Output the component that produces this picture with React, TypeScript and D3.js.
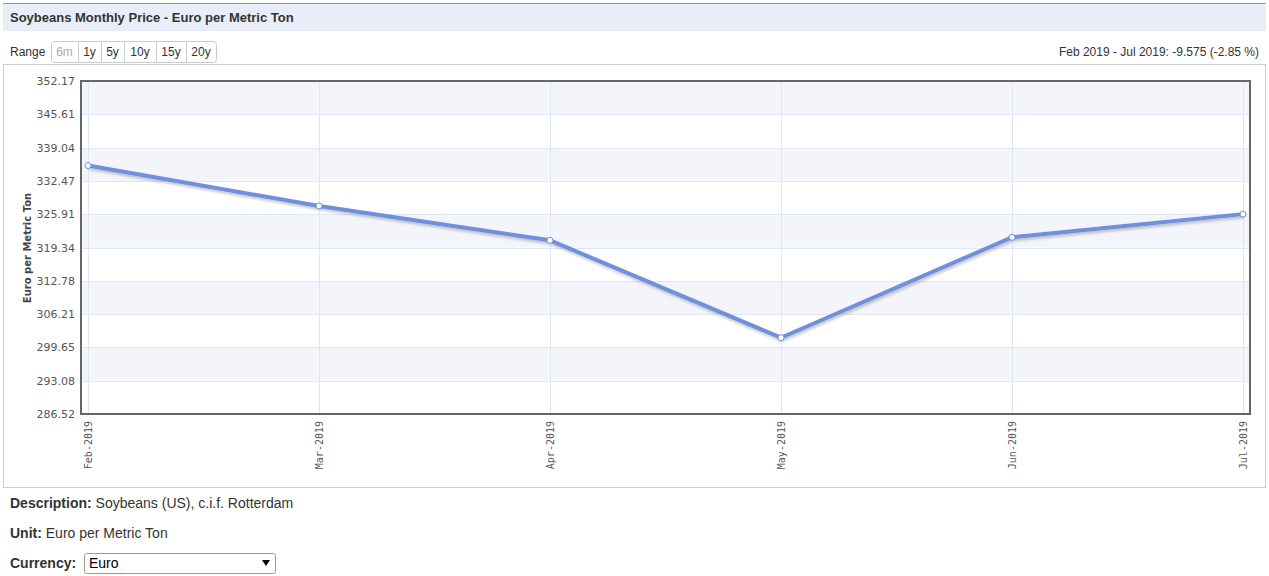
import React from "react";
import * as d3 from "d3";

const months = ["Feb-2019", "Mar-2019", "Apr-2019", "May-2019", "Jun-2019", "Jul-2019"];
const prices = [335.5, 327.53, 320.76, 301.56, 321.36, 325.925];
const yTicks = [286.52, 293.08, 299.65, 306.21, 312.78, 319.34, 325.91, 332.47, 339.04, 345.61, 352.17];
const rangeButtons = ["6m", "1y", "5y", "10y", "15y", "20y"];
const buttonWidths = [27, 23, 23, 32, 30, 30];

const W = 1269;
const H = 576;
const plot = { left: 81, right: 1250, top: 81, bottom: 414 };

export default function App() {
  const x = d3.scalePoint<string>().domain(months).range([plot.left + 7, plot.right - 7]);
  const y = d3.scaleLinear().domain([yTicks[0], yTicks[yTicks.length - 1]]).range([plot.bottom, plot.top]);
  const line = d3.line<number>().x((_, i) => x(months[i]) as number).y((d) => y(d));
  const bands = yTicks.slice(0, -1).map((t, i) => ({ lo: t, hi: yTicks[i + 1], idx: i }));
  const font = "'Liberation Sans', Arial, sans-serif";
  let bx = 51;
  return (
    <svg width={W} height={H} style={{ position: "absolute", left: 0, top: 0 }} fontFamily={font}>
      <defs>
        <filter id="sh" x="-5%" y="-20%" width="110%" height="140%">
          <feGaussianBlur in="SourceAlpha" stdDeviation="1.5" />
          <feOffset dx="1" dy="2" />
          <feComponentTransfer><feFuncA type="linear" slope="0.25" /></feComponentTransfer>
          <feMerge><feMergeNode /><feMergeNode in="SourceGraphic" /></feMerge>
        </filter>
      </defs>
      <rect x={0} y={0} width={W} height={H} fill="#fff" />
      {/* title bar */}
      <rect x={3} y={3} width={1263} height={28} fill="#e9edf8" />
      <line x1={3} x2={1266} y1={3.5} y2={3.5} stroke="#7a95cf" strokeWidth={1} />
      <text x={10} y={22} fontSize={13} fontWeight="bold" fill="#333">Soybeans Monthly Price - Euro per Metric Ton</text>
      {/* range */}
      <text x={10} y={56} fontSize={12} fill="#333">Range</text>
      <rect x={51.5} y={41.5} width={165} height={21} rx={3} fill="#fff" stroke="#ccc" />
      {rangeButtons.map((b, i) => {
        const x0 = bx;
        bx += buttonWidths[i];
        return (
          <g key={b}>
            {i > 0 && <line x1={x0 + 0.5} x2={x0 + 0.5} y1={42} y2={62} stroke="#ccc" />}
            <text x={x0 + buttonWidths[i] / 2} y={56} fontSize={12} textAnchor="middle" fill={i === 0 ? "#aaa" : "#333"}>{b}</text>
          </g>
        );
      })}
      <text x={1259} y={56} fontSize={12} textAnchor="end" fill="#333">Feb 2019 - Jul 2019: -9.575 (-2.85 %)</text>
      {/* chart box */}
      <rect x={3.5} y={64.5} width={1262} height={423} fill="#fff" stroke="#ccc" />
      {bands.map((b) => (
        <rect key={b.idx} x={plot.left} y={y(b.hi)} width={plot.right - plot.left} height={y(b.lo) - y(b.hi)}
          fill={(yTicks.length - 2 - b.idx) % 2 === 0 ? "#f3f5fb" : "#fff"} />
      ))}
      {yTicks.map((t) => (
        <line key={t} x1={plot.left} x2={plot.right} y1={Math.round(y(t)) + 0.5} y2={Math.round(y(t)) + 0.5} stroke="#dfe7f7" />
      ))}
      {months.map((m) => (
        <line key={m} x1={Math.round(x(m) as number) + 0.5} x2={Math.round(x(m) as number) + 0.5} y1={plot.top} y2={plot.bottom} stroke="#dfe7f7" />
      ))}
      <rect x={plot.left} y={plot.top} width={plot.right - plot.left} height={plot.bottom - plot.top} fill="none" stroke="#666" strokeWidth={2} />
      {yTicks.map((t) => (
        <text key={t} x={75} y={y(t) + 4} fontSize={11} textAnchor="end" fill="#555" fontFamily="Verdana, 'DejaVu Sans', sans-serif">{t.toFixed(2)}</text>
      ))}
      <text transform="translate(31,248) rotate(-90)" fontSize={10} fontWeight="bold" textAnchor="middle" fill="#444" fontFamily="Verdana, 'DejaVu Sans', sans-serif">Euro per Metric Ton</text>
      {months.map((m) => (
        <text key={m} transform={`translate(${(x(m) as number) + 4},${plot.bottom + 7}) rotate(-90)`} fontSize={10} textAnchor="end" fill="#555" fontFamily="'DejaVu Sans Mono', 'Liberation Mono', monospace">{m}</text>
      ))}
      <path d={line(prices) as string} fill="none" stroke="#6f8fdc" strokeWidth={4} strokeLinejoin="round" filter="url(#sh)" />
      {prices.map((p, i) => (
        <circle key={i} cx={x(months[i]) as number} cy={y(p)} r={3} fill="#fff" stroke="#6f8fdc" strokeWidth={1} />
      ))}
      {/* bottom info */}
      <text x={10} y={508} fontSize={14} fill="#333"><tspan fontWeight="bold">Description:</tspan> Soybeans (US), c.i.f. Rotterdam</text>
      <text x={10} y={538} fontSize={14} fill="#333"><tspan fontWeight="bold">Unit:</tspan> Euro per Metric Ton</text>
      <text x={10} y={568} fontSize={14} fill="#333" fontWeight="bold">Currency:</text>
      <rect x={84.5} y={553.5} width={191} height={20} fill="#fff" stroke="#999" rx={2} />
      <text x={89} y={568} fontSize={14} fill="#000">Euro</text>
      <path d="M262,560 L270,560 L266,566 Z" fill="#000" />
    </svg>
  );
}
